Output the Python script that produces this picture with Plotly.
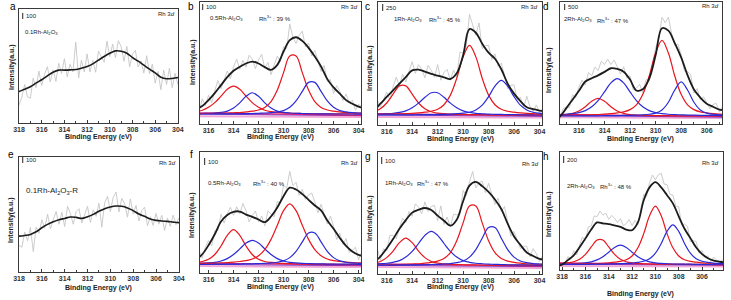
import plotly.graph_objects as go

# ---------------- data (intensities in % of each panel's frame height) ----------------
ENERGY = [318.5, 318.0, 317.5, 317.0, 316.5, 316.0, 315.5, 315.0, 314.5, 314.0, 313.5,
          313.0, 312.5, 312.0, 311.5, 311.0, 310.5, 310.0, 309.5, 309.0, 308.5, 308.0,
          307.5, 307.0, 306.5, 306.0, 305.5, 305.0, 304.5, 304.0, 303.5]
RAW_ENERGY = [318.0, 317.75, 317.5, 317.25, 317.0, 316.75, 316.5, 316.25, 316.0, 315.75,
              315.5, 315.25, 315.0, 314.75, 314.5, 314.25, 314.0, 313.75, 313.5, 313.25,
              313.0, 312.75, 312.5, 312.25, 312.0, 311.75, 311.5, 311.25, 311.0, 310.75,
              310.5, 310.25, 310.0, 309.75, 309.5, 309.25, 309.0, 308.75, 308.5, 308.25,
              308.0, 307.75, 307.5, 307.25, 307.0, 306.75, 306.5, 306.25, 306.0, 305.75,
              305.5, 305.25, 305.0, 304.75, 304.5, 304.25, 304.0, 303.75]
BG_ENERGY = [318.5, 303.5]

# panel a : 0.1Rh-Al2O3
RAW_A = [15.7, 22.7, 33.7, 22.8, 21.8, 39.4, 31, 45.5, 32.9, 42.7, 49.4, 36, 46.6, 36.5, 52.4,
         43.4, 56.4, 40.5, 51.6, 44.8, 70.9, 39.5, 55.1, 44.9, 60.6, 44.8, 54.9, 44.5, 63.1,
         58.7, 53.3, 71.8, 58.2, 69.3, 57.3, 72.2, 67, 54.1, 67.2, 49.3, 60.4, 63.8, 49.2,
         54.5, 43.7, 59, 43.2, 51.6, 35, 45.1, 29.2, 46.5, 33.8, 48, 31.1, 43.5, 33.9, 42]
SMOOTH_A = [27, 27.7, 29.7, 31.8, 35, 37.9, 41.4, 44.6, 46.4, 46.4, 46.6, 46.9, 48.1, 49.6,
            51.9, 55.1, 58.3, 61.2, 63.3, 63, 61.2, 57.4, 54.2, 50.7, 47.2, 44, 40.2, 38.8,
            39.1, 39.9, 40]

# panel e : 0.1Rh-Al2O3-R
RAW_E = [23.2, 21.5, 34.8, 27.2, 38.7, 17.8, 39, 33.7, 45.5, 38, 50.4, 37.5, 45.7, 52.6, 41.5,
         52, 39.6, 57.2, 50.8, 41.6, 52.5, 55, 42.6, 49.3, 57.1, 43.1, 54.1, 48.4, 59.8, 39,
         60.1, 65.8, 52.6, 65, 69.4, 52.2, 64.1, 59.4, 47.7, 63.5, 50.4, 57.9, 44.4, 53.4,
         56.4, 40.2, 48.1, 40.5, 50.9, 41.6, 49.3, 36.1, 47, 39.7, 49.4, 41.1, 46.9, 39.8]
SMOOTH_E = [31, 31.2, 31.8, 32.7, 35, 38.5, 41.4, 43.7, 45.5, 46.6, 47.8, 47.5, 46.6, 48.1,
            50.1, 52.8, 55.1, 56.6, 57.4, 57.1, 55.7, 53.4, 50.4, 48.4, 46.1, 44.9, 44.3, 44,
            43.4, 42.9, 42.7]

# panel b : 0.5Rh-Al2O3
RAW_B = [7, 12.5, 6, 16, 13, 10.3, 20.7, 15.1, 23.6, 17.4, 27.3, 35.6, 28.9, 36.1, 43.4, 37,
         46.6, 53.2, 44.9, 52.2, 46.6, 56.4, 53.2, 45.4, 52.6, 57.1, 45.6, 50.5, 40.4, 48.4,
         55.5, 51, 63.4, 62, 82, 70.9, 66.1, 72.6, 76.1, 63.2, 66.4, 55.8, 60.3, 52.2, 43.1,
         48, 34.8, 36.4, 25, 31.4, 26.8, 19.2, 24.6, 17.1, 19.6, 11.4, 16.2, 14.3]
ENV_B = [8, 9, 10, 12, 14.7, 19.6, 25.3, 31.9, 38.4, 43.6, 46.9, 49.6, 51.2, 49.6, 46.6, 44.4,
         48.5, 59.4, 68.7, 71.1, 68.1, 62.4, 55.3, 47.1, 36.8, 30, 24.8, 19.6, 16.6, 14.2, 12.5]
RED1_B = [8.9, 9.1, 9.5, 10.1, 11.3, 13.7, 17.5, 22.8, 28.4, 31, 28.4, 22.8, 17.5, 13.7, 11.3,
          10.1, 9.5, 9.1, 8.9, 8.7, 8.6, 8.5, 8.4, 8.4, 8.4, 8.3, 8.3, 8.3, 8.2, 8.2, 8.2]
BLUE1_B = [8.3, 8.3, 8.4, 8.4, 8.6, 8.7, 9, 9.5, 10.6, 13.1, 17.3, 22.7, 25.6, 22.7, 17.3, 13.1,
           10.6, 9.5, 9, 8.7, 8.6, 8.4, 8.4, 8.3, 8.3, 8.2, 8.2, 8.2, 8.2, 8.1, 8.1]
RED2_B = [8.4, 8.4, 8.4, 8.5, 8.6, 8.6, 8.7, 8.8, 9, 9.2, 9.4, 9.9, 10.5, 11.5, 13.6, 18.4, 27.8,
          42.1, 55.7, 55.7, 42.1, 27.8, 18.4, 13.6, 11.5, 10.5, 9.9, 9.4, 9.2, 9, 8.8]
BLUE2_B = [8.2, 8.2, 8.2, 8.2, 8.2, 8.2, 8.3, 8.3, 8.3, 8.4, 8.4, 8.5, 8.6, 8.8, 9, 9.3, 9.9, 11,
           13.7, 18.9, 26.7, 34.1, 34.1, 26.7, 18.9, 13.7, 11, 9.9, 9.3, 9, 8.8]
BG_B = [[9.5, 7], [8.3, 6.8], [6.5, 5.8]]

# panel c : 1Rh-Al2O3
RAW_C = [12, 7.5, 15, 7, 14, 20.6, 14.3, 21, 26.8, 20.5, 31.2, 38.9, 31.6, 41.3, 35, 43.7, 51.4,
         42, 49, 45.2, 38.4, 48.4, 44.5, 38.8, 49.1, 36.4, 42.8, 45.1, 36.4, 44.7, 39, 59.3,
         58.6, 64, 90, 81.5, 73, 83, 62.1, 64.4, 64.8, 53.3, 57.9, 47.6, 50.3, 40.4, 29.6, 32.5,
         32.5, 20.5, 22.5, 14, 23.4, 14.7, 11, 16.3, 10.7, 13.3]
ENV_C = [8, 9, 10, 12, 17.3, 22.8, 28.2, 33.6, 39, 44.4, 45, 43.4, 41.5, 40.1, 38.8, 37.4, 42,
         56.6, 78, 75, 66.1, 58.8, 53.9, 45.3, 33.6, 25.5, 19.5, 14.4, 13, 11.7, 11]
RED1_C = [8.9, 9.2, 9.7, 10.8, 13.2, 17.9, 25.1, 31.8, 31.8, 25.1, 17.9, 13.2, 10.8, 9.7, 9.2,
          8.9, 8.7, 8.6, 8.5, 8.4, 8.4, 8.3, 8.3, 8.2, 8.2, 8.2, 8.2, 8.2, 8.2, 8.1, 8.1]
BLUE1_C = [8.4, 8.5, 8.6, 8.7, 8.8, 9.1, 9.4, 10.2, 11.5, 14, 17.8, 22.5, 26.2, 26.2, 22.5, 17.8,
           14, 11.5, 10.2, 9.4, 9.1, 8.8, 8.7, 8.6, 8.5, 8.4, 8.3, 8.3, 8.3, 8.2, 8.2]
RED2_C = [8.4, 8.4, 8.5, 8.6, 8.6, 8.7, 8.9, 9, 9.2, 9.4, 9.8, 10.4, 11.2, 12.8, 16.5, 24.3, 38,
          55.4, 64.8, 55.4, 38, 24.3, 16.5, 12.8, 11.2, 10.4, 9.8, 9.4, 9.2, 9, 8.9]
BLUE2_C = [8.1, 8.2, 8.2, 8.2, 8.2, 8.2, 8.2, 8.2, 8.3, 8.3, 8.4, 8.4, 8.5, 8.6, 8.7, 8.9, 9.2,
           9.6, 10.4, 12.2, 16.1, 23, 31.6, 36.3, 31.6, 23, 16.1, 12.2, 10.4, 9.6, 9.2]
BG_C = [[9.5, 7.5], [8.3, 7], [6.5, 6]]

# panel d : 2Rh-Al2O3
RAW_D = [3, 7, 4, 12.4, 13.8, 13.3, 23.8, 21.5, 30.2, 36, 31.8, 42.2, 39.5, 46.7, 43.9, 51.3,
         48.7, 53.2, 48.7, 52.4, 47.1, 41, 46.9, 37.7, 39.4, 28, 29.5, 32.5, 25.5, 36.5, 35.2,
         49.8, 62.3, 70, 87.5, 83, 87.5, 74.4, 64.3, 65.5, 56.6, 43.3, 43, 40.2, 25.3, 29, 19.7,
         22.2, 17.6, 12.4, 16.1, 16.9, 9.7, 14.4, 10, 12.8, 11.5, 9.2]
ENV_D = [3, 4, 6, 12.8, 19.8, 27.2, 34.8, 37.5, 39.9, 42.7, 45.7, 45.1, 42.9, 36.4, 27.5, 28.5,
         37.2, 56.3, 78.5, 76.5, 66.3, 54.6, 40, 28.3, 21.7, 16.6, 14.1, 11.7, 11, 10.5, 10]
RED1_D = [7, 7.1, 7.3, 7.7, 8.7, 10.7, 14.2, 18.6, 21, 18.6, 14.2, 10.7, 8.7, 7.7, 7.3, 7.1, 7,
          6.9, 6.8, 6.8, 6.7, 6.7, 6.7, 6.6, 6.6, 6.6, 6.6, 6.6, 6.6, 6.6, 6.6]
BLUE1_D = [7.3, 7.5, 7.7, 8, 8.5, 9.3, 11, 14.1, 19.2, 26.3, 33.7, 37.2, 33.7, 26.3, 19.2, 14.1,
           11, 9.3, 8.5, 8, 7.7, 7.5, 7.3, 7.2, 7.1, 7, 7, 6.9, 6.9, 6.8, 6.8]
RED2_D = [6.9, 7, 7, 7.1, 7.2, 7.3, 7.4, 7.6, 7.8, 8.1, 8.5, 9.1, 10, 11.8, 15.7, 24.3, 39.3,
          58.2, 68.5, 58.2, 39.3, 24.3, 15.7, 11.8, 10, 9.1, 8.5, 8.1, 7.8, 7.6, 7.4]
BLUE2_D = [6.6, 6.6, 6.6, 6.6, 6.7, 6.7, 6.7, 6.7, 6.7, 6.8, 6.8, 6.9, 7, 7.1, 7.3, 7.5, 8, 8.9,
           11.5, 17.8, 27.9, 34.5, 27.9, 17.8, 11.5, 8.9, 8, 7.5, 7.3, 7.1, 7]
BG_D = [[8, 6], [7, 5.5], [5.5, 4.8]]

# panel f : 0.5Rh-Al2O3 (bottom row)
RAW_F = [10, 11.5, 6, 13.5, 10, 18.2, 12.5, 21.2, 26.9, 22.4, 35, 35.2, 48.5, 41.2, 49, 54.3,
         47.6, 54.7, 48.8, 57.5, 51.3, 42.3, 47.4, 51.3, 42.2, 47.1, 39, 51.3, 48.7, 46.4, 59.1,
         57.8, 72.5, 70, 84, 72.2, 75, 64.1, 69.2, 60.8, 64.5, 66.1, 58.8, 49.7, 56.7, 48.5,
         40.4, 47, 38.5, 27.7, 33, 23.7, 28.4, 17, 18.7, 21.3, 10.9, 17.4]
ENV_F = [8, 9, 10, 11, 15.5, 22.9, 32, 42.5, 48, 50.6, 50.8, 48.3, 46.4, 44.2, 42, 46.7, 54.1,
         63.5, 70.5, 69, 65.2, 60.5, 55.8, 51.7, 43.4, 36.5, 29, 22.4, 17.7, 14.9, 14]
RED1_F = [7.7, 7.9, 8.2, 8.7, 9.5, 11.3, 15.3, 22.3, 31.1, 35.9, 31.1, 22.3, 15.3, 11.3, 9.5,
          8.7, 8.2, 7.9, 7.7, 7.6, 7.5, 7.4, 7.4, 7.3, 7.3, 7.3, 7.2, 7.2, 7.2, 7.2, 7.2]
BLUE1_F = [7.4, 7.5, 7.6, 7.8, 8, 8.3, 8.8, 9.9, 11.9, 15.3, 19.9, 24.7, 27, 24.7, 19.9, 15.3,
           11.9, 9.9, 8.8, 8.3, 8, 7.8, 7.6, 7.5, 7.4, 7.4, 7.3, 7.3, 7.3, 7.2, 7.2]
RED2_F = [7.5, 7.6, 7.7, 7.8, 7.9, 8, 8.1, 8.3, 8.6, 9, 9.5, 10.2, 11.6, 14.3, 19.4, 27.8, 39.4,
          51.5, 57.2, 51.5, 39.4, 27.8, 19.4, 14.3, 11.6, 10.2, 9.5, 9, 8.6, 8.3, 8.1]
BLUE2_F = [7.2, 7.2, 7.2, 7.2, 7.2, 7.2, 7.3, 7.3, 7.3, 7.4, 7.4, 7.5, 7.6, 7.8, 8, 8.3, 8.9, 10,
           12.7, 17.9, 25.7, 33.1, 33.1, 25.7, 17.9, 12.7, 10, 8.9, 8.3, 8, 7.8]
BG_F = [[8.5, 6.5], [7.3, 6], [5.8, 5]]

# panel g : 1Rh-Al2O3 (bottom row)
RAW_G = [10, 7.5, 13, 7.5, 11, 21.2, 11.3, 20.6, 18.9, 31.8, 31.6, 28.9, 38.1, 45.7, 42.2, 51.3,
         47.3, 57.5, 54.7, 49.4, 59.1, 51.3, 55.5, 56.2, 43.8, 55.8, 40.7, 46.7, 38.6, 49, 48.5,
         49, 68.6, 64, 75.5, 84, 70.5, 74.8, 76, 66.7, 74.3, 66.2, 57, 62.2, 51.3, 55.3, 44.2,
         31, 34.8, 28.4, 20.9, 22.8, 22.6, 14.2, 20.8, 16.6, 10.4, 15]
ENV_G = [7, 8, 9, 10, 14.3, 20.9, 28.6, 37.1, 44.2, 50.3, 52.7, 54.1, 52.5, 47.8, 43.7, 39.6,
         44.5, 59.6, 72.5, 75.5, 72, 67.3, 61, 53.3, 41.2, 30.8, 23.9, 17.6, 14.8, 12.4, 11.5]
RED1_G = [7.7, 7.9, 8.3, 8.9, 10.3, 13.4, 18.8, 25.7, 29.4, 25.7, 18.8, 13.4, 10.3, 8.9, 8.3,
          7.9, 7.7, 7.6, 7.5, 7.4, 7.3, 7.3, 7.3, 7.2, 7.2, 7.2, 7.2, 7.2, 7.1, 7.1, 7.1]
BLUE1_G = [7.6, 7.7, 7.9, 8.1, 8.4, 8.8, 9.6, 11, 13.9, 18.6, 25, 31.7, 34.9, 31.7, 25, 18.6,
           13.9, 11, 9.6, 8.8, 8.4, 8.1, 7.9, 7.7, 7.6, 7.5, 7.5, 7.4, 7.4, 7.3, 7.3]
RED2_G = [7.4, 7.4, 7.4, 7.5, 7.6, 7.6, 7.7, 7.8, 8, 8.2, 8.4, 8.9, 9.6, 10.6, 12.7, 17.6, 27.3,
          41.9, 55.8, 55.8, 41.9, 27.3, 17.6, 12.7, 10.6, 9.6, 8.9, 8.4, 8.2, 8, 7.8]
BLUE2_G = [7.2, 7.2, 7.2, 7.2, 7.3, 7.3, 7.3, 7.4, 7.4, 7.5, 7.5, 7.6, 7.8, 7.9, 8.2, 8.5, 9.3,
           10.6, 13.8, 20, 29.3, 38.1, 38.1, 29.3, 20, 13.8, 10.6, 9.3, 8.5, 8.2, 7.9]
BG_G = [[8.5, 6.5], [7.3, 6], [5.8, 5]]

# panel h : 2Rh-Al2O3 (bottom row)
RAW_H = [5.6, 4.5, 11.4, 9.4, 16.4, 12.8, 21.3, 28, 24.8, 36.5, 37.3, 45.8, 45.3, 50, 46.5,
         48.2, 42.9, 46.3, 43.8, 40.2, 43.6, 37.4, 39.3, 42.8, 37.7, 42, 38.3, 52.5, 64.1, 62.5,
         74, 80.5, 76.4, 80.7, 82, 72.8, 72.4, 64, 63.5, 54, 53.5, 38.2, 39, 37, 24, 25, 24,
         14.2, 16.5, 10.7, 12, 7, 11, 8.5, 6, 8.7, 5.5, 7.2]
ENV_H = [3.5, 4.6, 8.4, 12.4, 19.3, 26.8, 34.3, 40.3, 39.5, 38.9, 37.8, 36.6, 34.3, 33.7, 40.3,
         59.1, 70, 74.4, 70, 63.4, 56.5, 45.5, 35, 27, 19, 13.5, 10, 8, 7, 6.5, 6]
RED1_H = [5.3, 5.6, 6, 7, 9.1, 13.2, 19.5, 25.4, 25.4, 19.5, 13.2, 9.1, 7, 6, 5.6, 5.3, 5.1, 5,
          4.9, 4.9, 4.8, 4.8, 4.8, 4.7, 4.7, 4.7, 4.7, 4.6, 4.6, 4.6, 4.6]
BLUE1_H = [4.9, 5, 5.1, 5.3, 5.6, 6, 6.9, 8.6, 11.3, 15.1, 19.1, 21, 19.1, 15.1, 11.3, 8.6, 6.9,
           6, 5.6, 5.3, 5.1, 5, 4.9, 4.9, 4.8, 4.8, 4.8, 4.7, 4.7, 4.7, 4.7]
RED2_H = [4.9, 4.9, 5, 5.1, 5.2, 5.3, 5.4, 5.5, 5.7, 6.1, 6.6, 7.3, 8.7, 11.9, 18.8, 30.8, 45.9,
          54.2, 45.9, 30.8, 18.8, 11.9, 8.7, 7.3, 6.6, 6.1, 5.7, 5.5, 5.4, 5.3, 5.2]
BLUE2_H = [4.7, 4.7, 4.7, 4.8, 4.8, 4.8, 4.9, 4.9, 5, 5.1, 5.2, 5.4, 5.6, 5.9, 6.4, 7.4, 9.5,
           14.2, 22.4, 32.7, 38.3, 32.7, 22.4, 14.2, 9.5, 7.4, 6.4, 5.9, 5.6, 5.4, 5.2]
BG_H = [[6, 4.2], [5, 4], [3.5, 3]]

PANEL_KEYS = ["a", "b", "c", "d", "e", "f", "g", "h"]
SCALE_LABELS = ["100", "100", "250", "500", "100", "100", "100", "200"]
SAMPLE_NAMES = ["0.1Rh-Al<sub>2</sub>O<sub>3</sub>", "0.5Rh-Al<sub>2</sub>O<sub>3</sub>",
                "1Rh-Al<sub>2</sub>O<sub>3</sub>", "2Rh-Al<sub>2</sub>O<sub>3</sub>",
                "0.1Rh-Al<sub>2</sub>O<sub>3</sub>-R", "0.5Rh-Al<sub>2</sub>O<sub>3</sub>",
                "1Rh-Al<sub>2</sub>O<sub>3</sub>", "2Rh-Al<sub>2</sub>O<sub>3</sub>"]
RH3_PERCENT = [None, 39, 45, 47, None, 40, 47, 48]
X_TITLE = "Binding Energy (eV)"
Y_TITLE = "Intensity(a.u.)"

SMOOTH_PANELS = {"a": (RAW_A, SMOOTH_A), "e": (RAW_E, SMOOTH_E)}
FIT_PANELS = {
    "b": (RAW_B, ENV_B, RED1_B, BLUE1_B, RED2_B, BLUE2_B, BG_B),
    "c": (RAW_C, ENV_C, RED1_C, BLUE1_C, RED2_C, BLUE2_C, BG_C),
    "d": (RAW_D, ENV_D, RED1_D, BLUE1_D, RED2_D, BLUE2_D, BG_D),
    "f": (RAW_F, ENV_F, RED1_F, BLUE1_F, RED2_F, BLUE2_F, BG_F),
    "g": (RAW_G, ENV_G, RED1_G, BLUE1_G, RED2_G, BLUE2_G, BG_G),
    "h": (RAW_H, ENV_H, RED1_H, BLUE1_H, RED2_H, BLUE2_H, BG_H),
}

# ---------------- layout / style ----------------
W, H = 731, 300
FONT = "Liberation Sans, Arial, sans-serif"
FRAME_COLOR = "#3a3a3a"
GREY, BLACK, RED, BLUE = "#c6c6c6", "#1c1c1c", "#e8161e", "#2a2ad8"
BG_COLORS = ["#d81b7a", "#6b35c9", "#f4a8d6"]
BG_WIDTHS = [1.2, 1.0, 2.0]

# frame pixel boxes: left, right, top, bottom
FRAMES = {"a": (13, 175, 9, 123), "b": (197, 361, 2, 124), "c": (378, 545, 2, 125),
          "d": (563, 728, 2, 124), "e": (13, 176, 157, 272), "f": (197, 361, 152, 273),
          "g": (378, 545, 152, 274), "h": (563, 729, 152, 270)}
X_RANGES = {"a": [318.02, 303.98], "b": [316.7, 303.8], "c": [316.7, 303.8],
            "d": [317.5, 304.8], "e": [318.02, 303.98], "f": [316.7, 303.8],
            "g": [316.7, 303.8], "h": [318.2, 304.2]}
LETTER_POS = {"a": (7, 6), "b": (188, 6), "c": (368, 7), "d": (549, 6),
              "e": (5, 154), "f": (189, 154), "g": (368, 156), "h": (549, 156)}
RH3D_POS = {"a": (174, 14), "b": (360, 7), "c": (543, 7), "d": (727, 6),
            "e": (175, 163), "f": (360, 163), "g": (544, 164), "h": (727, 163)}
SCALE_POS = {"a": (17, 13, 19), "b": (200, 4, 10), "c": (383, 4, 11), "d": (568, 4, 10),
             "e": (17, 157, 163), "f": (202, 158, 165), "g": (382, 157, 164), "h": (567, 156, 163)}
SAMPLE_POS = {"a": (17, 33), "b": (205, 18), "c": (392, 19), "d": (565, 20),
              "e": (18, 191), "f": (203, 183), "g": (383, 183), "h": (568, 186)}
RH3_POS = {"b": (255, 18), "c": (428, 19), "d": (599, 20),
           "f": (249, 183), "g": (416, 183), "h": (602, 186)}
XTITLE_POS = {"a": (94, 137), "b": (279, 137), "c": (462, 139), "d": (645, 139),
              "e": (94, 288), "f": (279, 287), "g": (462, 287), "h": (645, 294)}
YTITLE_POS = {"a": (6, 67), "b": (190, 62), "c": (370, 68), "d": (552, 70),
              "e": (5, 220), "f": (189, 215), "g": (370, 218), "h": (552, 214)}


def px(x):
    return x / W


def py(y):
    return 1 - y / H


fig = go.Figure()
annotations = []
shapes = []
layout_axes = {}

for k, key in enumerate(PANEL_KEYS, start=1):
    xs = "x" if k == 1 else f"x{k}"
    ys = "y" if k == 1 else f"y{k}"
    l, r, t, b = FRAMES[key]
    layout_axes["xaxis" if k == 1 else f"xaxis{k}"] = dict(
        domain=[px(l), px(r)], range=X_RANGES[key], anchor=ys,
        showline=True, mirror=True, linecolor=FRAME_COLOR, linewidth=1,
        ticks="inside", ticklen=3, tickwidth=1, tickcolor=FRAME_COLOR,
        tickmode="linear", tick0=304, dtick=2,
        minor=dict(ticks="inside", ticklen=2, dtick=1, tick0=305, tickcolor=FRAME_COLOR, showgrid=False),
        tickfont=dict(family=FONT, size=7, color="#333333", weight="bold"),
        showgrid=False, zeroline=False, fixedrange=True)
    layout_axes["yaxis" if k == 1 else f"yaxis{k}"] = dict(
        domain=[py(b), py(t)], range=[0, 100], anchor=xs,
        showline=True, mirror=True, linecolor=FRAME_COLOR, linewidth=1,
        showticklabels=False, ticks="", showgrid=False, zeroline=False, fixedrange=True)

    if key in SMOOTH_PANELS:
        raw, smooth = SMOOTH_PANELS[key]
        fig.add_trace(go.Scatter(x=RAW_ENERGY, y=raw, mode="lines", xaxis=xs, yaxis=ys,
                                 line=dict(color=GREY, width=0.9)))
        fig.add_trace(go.Scatter(x=ENERGY, y=smooth, mode="lines", xaxis=xs, yaxis=ys,
                                 line=dict(color=BLACK, width=1.6, shape="spline")))
    else:
        raw, env, r1, b1, r2, b2, bgs = FIT_PANELS[key]
        fig.add_trace(go.Scatter(x=RAW_ENERGY, y=raw, mode="lines", xaxis=xs, yaxis=ys,
                                 line=dict(color=GREY, width=0.9)))
        for bg, c, w in zip(bgs[::-1], BG_COLORS[::-1], BG_WIDTHS[::-1]):
            fig.add_trace(go.Scatter(x=BG_ENERGY, y=bg, mode="lines", xaxis=xs, yaxis=ys,
                                     line=dict(color=c, width=w)))
        for comp, c in ((r1, RED), (b1, BLUE), (r2, RED), (b2, BLUE)):
            fig.add_trace(go.Scatter(x=ENERGY, y=comp, mode="lines", xaxis=xs, yaxis=ys,
                                     line=dict(color=c, width=1.2, shape="spline")))
        fig.add_trace(go.Scatter(x=ENERGY, y=env, mode="lines", xaxis=xs, yaxis=ys,
                                 line=dict(color=BLACK, width=1.8, shape="spline")))

    # panel letter
    lx, ly = LETTER_POS[key]
    annotations.append(dict(x=px(lx), y=py(ly), xref="paper", yref="paper", text=key,
                            showarrow=False, xanchor="center", yanchor="middle",
                            font=dict(family=FONT, size=10, color="#000000")))
    # Rh 3d label
    rx, ry = RH3D_POS[key]
    annotations.append(dict(x=px(rx), y=py(ry), xref="paper", yref="paper",
                            text="Rh 3<i>d</i>", showarrow=False, xanchor="right",
                            yanchor="middle", font=dict(family=FONT, size=6, color="#222222")))
    # scale bar
    sx, sy0, sy1 = SCALE_POS[key]
    shapes.append(dict(type="line", xref="paper", yref="paper", x0=px(sx), x1=px(sx),
                       y0=py(sy0), y1=py(sy1), line=dict(color="#222222", width=1)))
    annotations.append(dict(x=px(sx + 1.5), y=py((sy0 + sy1) / 2), xref="paper", yref="paper",
                            text=SCALE_LABELS[k - 1], showarrow=False, xanchor="left",
                            yanchor="middle", font=dict(family=FONT, size=6, color="#222222")))
    # sample label
    smx, smy = SAMPLE_POS[key]
    annotations.append(dict(x=px(smx), y=py(smy), xref="paper", yref="paper",
                            text=SAMPLE_NAMES[k - 1], showarrow=False, xanchor="left",
                            yanchor="middle",
                            font=dict(family=FONT, size=8 if key == "e" else 6, color="#222222")))
    if RH3_PERCENT[k - 1] is not None:
        hx, hy = RH3_POS[key]
        annotations.append(dict(x=px(hx), y=py(hy), xref="paper", yref="paper",
                                text=f"Rh<sup>3+</sup> : {RH3_PERCENT[k - 1]} %", showarrow=False,
                                xanchor="left", yanchor="middle",
                                font=dict(family=FONT, size=6, color="#222222")))
    # axis titles
    tx, ty = XTITLE_POS[key]
    annotations.append(dict(x=px(tx), y=py(ty), xref="paper", yref="paper", text=X_TITLE,
                            showarrow=False, xanchor="center", yanchor="middle",
                            font=dict(family=FONT, size=7, color="#222222", weight="bold")))
    vx, vy = YTITLE_POS[key]
    annotations.append(dict(x=px(vx), y=py(vy), xref="paper", yref="paper", text=Y_TITLE,
                            showarrow=False, xanchor="center", yanchor="middle", textangle=-90,
                            font=dict(family=FONT, size=7, color="#222222", weight="bold")))

fig.update_layout(width=W, height=H, margin=dict(l=0, r=0, t=0, b=0),
                  paper_bgcolor="white", plot_bgcolor="white", showlegend=False,
                  annotations=annotations, shapes=shapes, **layout_axes)

fig.write_html("out.html", config={"displayModeBar": False},
               post_script="document.body.style.margin='0';document.body.style.overflow='hidden';")
